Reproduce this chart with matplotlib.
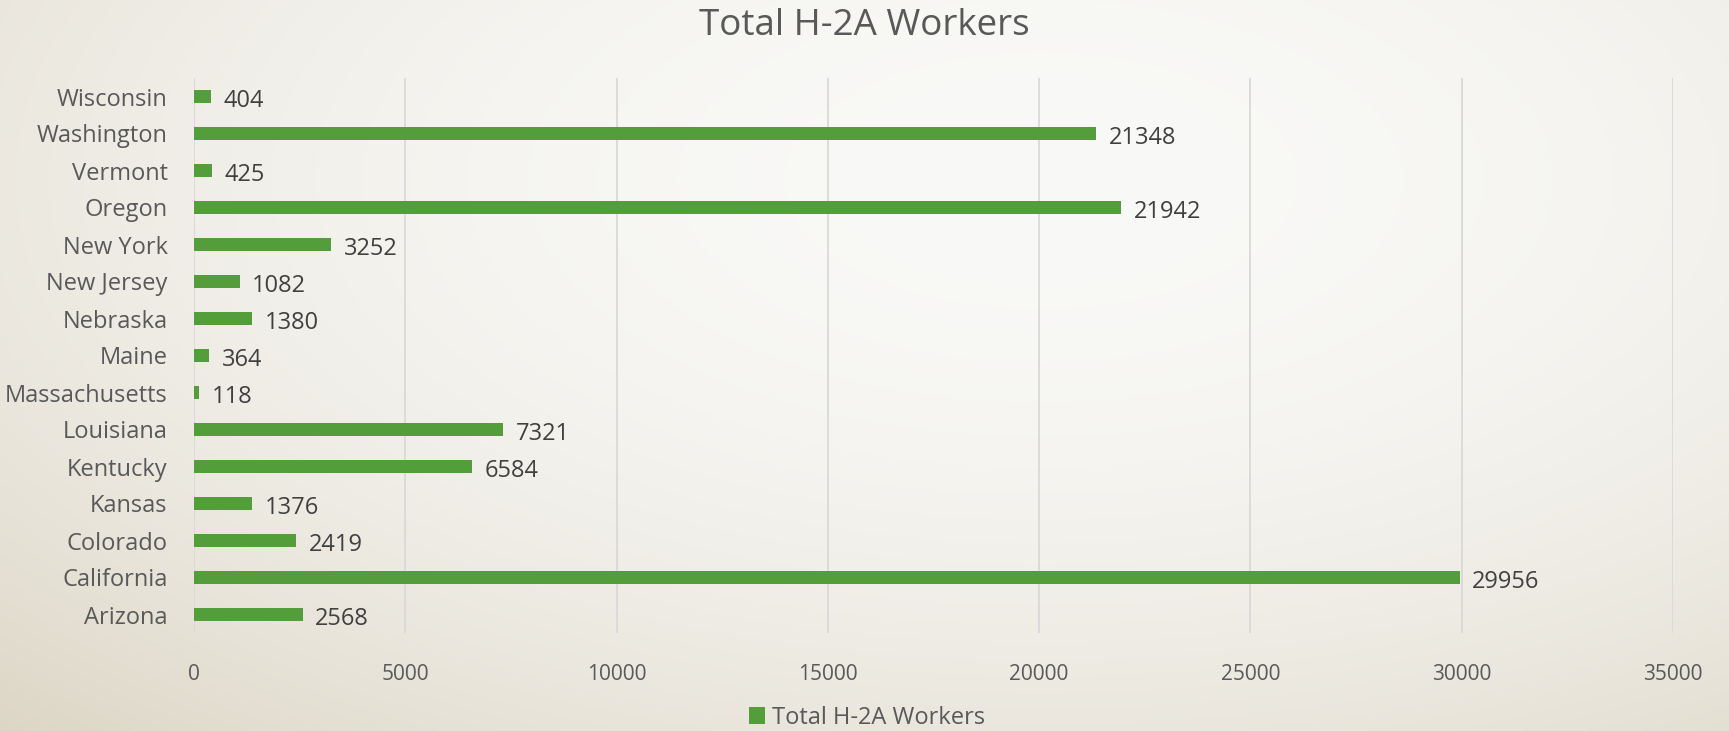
import numpy as np
import matplotlib
matplotlib.use("Agg")
import matplotlib.pyplot as plt

states = ["Arizona", "California", "Colorado", "Kansas", "Kentucky", "Louisiana",
          "Massachusetts", "Maine", "Nebraska", "New Jersey", "New York", "Oregon",
          "Vermont", "Washington", "Wisconsin"]
workers = [2568, 29956, 2419, 1376, 6584, 7321, 118, 364, 1380, 1082, 3252, 21942,
           425, 21348, 404]
x_ticks = [0, 5000, 10000, 15000, 20000, 25000, 30000, 35000]
title = "Total H-2A Workers"
series_name = "Total H-2A Workers"

plt.rcParams['font.family'] = ['Open Sans', 'DejaVu Sans']

W, H = 1729, 731
fig = plt.figure(figsize=(W / 100, H / 100), dpi=100)

# background gradient
bg = fig.add_axes([0, 0, 1, 1], zorder=-10)
yy, xx = np.mgrid[0:H, 0:W]
d = np.sqrt((xx - 1040.0) ** 2 + (2.0 * (yy - 180.0)) ** 2) / 1515.0
t = np.clip(d, 0, 1.1) ** 2
c0 = np.array([249, 249, 247]) / 255.0
c1 = np.array([221, 214, 198]) / 255.0
img = c0[None, None, :] * (1 - t[..., None]) + c1[None, None, :] * t[..., None]
img = np.clip(img, 0, 1)
bg.imshow(img, extent=[0, 1, 0, 1], aspect='auto', origin='upper')
bg.axis('off')

ax = fig.add_axes([194 / W, 1 - 633 / H, (1673 - 194) / W, (633 - 78) / H])
ax.set_facecolor('none')

green = '#539E3A'
ypos = np.arange(len(states))
bars = ax.barh(ypos, workers, height=0.33, color=green, zorder=3,
               label=series_name)
ax.set_xlim(0, 35000)
ax.set_ylim(-0.5, len(states) - 0.5)
ax.set_xticks(x_ticks)
ax.set_xticklabels([str(v) for v in x_ticks])
ax.set_yticks(ypos)
ax.set_yticklabels(states)
ax.tick_params(axis='x', length=0, pad=22, labelsize=15, labelcolor='#595959')
ax.tick_params(axis='y', length=0, pad=19, labelsize=17, labelcolor='#595959')
for s in ax.spines.values():
    s.set_visible(False)
ax.grid(axis='x', color='#D9D9D9', linewidth=1.3, zorder=0)
ax.set_axisbelow(True)

for yv, v in zip(ypos, workers):
    ax.annotate(str(v), xy=(v, yv), xytext=(9, -3), textcoords='offset points',
                ha='left', va='center', fontsize=17, color='#404040')

fig.text(0.5, 1 - 26 / H, title, ha='center', va='center', fontsize=26.5,
         color='#595959')

leg = fig.legend(handles=[bars], labels=[series_name], loc='center',
                 bbox_to_anchor=(867 / W, 1 - 718 / H), frameon=False,
                 fontsize=17, handlelength=0.7, handleheight=0.7,
                 handletextpad=0.3, labelcolor='#595959')

fig.savefig('out.png', dpi=100)
